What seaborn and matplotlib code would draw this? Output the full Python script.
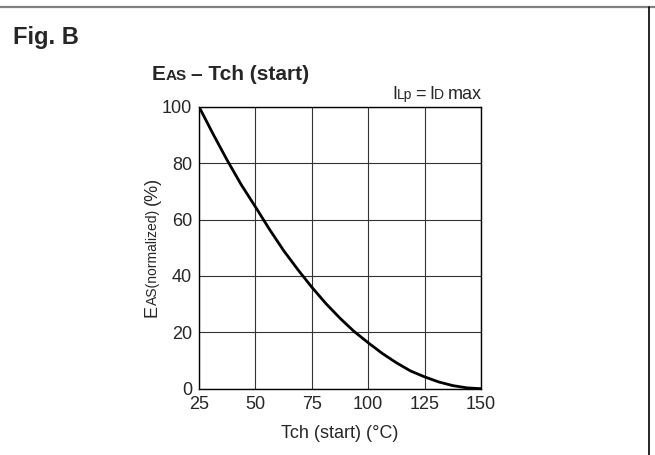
import numpy as np
import pandas as pd
import seaborn as sns
import matplotlib.pyplot as plt
from matplotlib.lines import Line2D
from matplotlib.transforms import IdentityTransform

# данные
tch = [25, 31.25, 37.5, 43.75, 50, 56.25, 62.5, 68.75, 75, 81.25, 87.5,
       93.75, 100, 106.25, 112.5, 118.75, 125, 131.25, 137.5, 143.75, 150]
eas = [100, 90.3, 81, 72.3, 64.5, 56.5, 49, 42.3, 36, 30.2, 25,
       20.3, 16.3, 12.5, 9.2, 6.3, 4.2, 2.4, 1.1, 0.3, 0]
x_ticks = [25, 50, 75, 100, 125, 150]
y_ticks = [0, 20, 40, 60, 80, 100]

sns.set_style("white")
plt.rcParams['font.family'] = ['Liberation Sans', 'DejaVu Sans']

W, H = 655, 455
fig = plt.figure(figsize=(W / 100, H / 100), dpi=100)
ax = fig.add_axes([199 / W, 66.3 / H, 282 / W, 282 / H])

df = pd.DataFrame({"Tch": tch, "EAS": eas})
sns.lineplot(data=df, x="Tch", y="EAS", ax=ax, color="black", linewidth=2.0)

ax.set_xlim(25, 150)
ax.set_ylim(0, 100)
ax.set_xticks(x_ticks)
ax.set_yticks(y_ticks)
ax.tick_params(length=0, labelsize=13, pad=5)
ax.grid(True, color="#333333", linewidth=0.8)
for s in ax.spines.values():
    s.set_color("black")
    s.set_linewidth(1.0)
ax.set_xlabel("")
ax.set_ylabel("")

renderer = fig.canvas.get_renderer()


def draw_runs(x, y, parts, weight="normal", rotate=False, align="left"):
    # рисуем текст кусками разного размера (имитация индексов)
    objs = []
    total = 0
    for s, size, gap in parts:
        t = fig.text(0, 0, s, fontsize=size, weight=weight, transform=IdentityTransform(),
                     ha="left", va="baseline", rotation=90 if rotate else 0,
                     rotation_mode="anchor")
        bb = t.get_window_extent(renderer)
        ln = bb.height if rotate else bb.width
        objs.append((t, ln, gap))
        total += ln + gap
    pos = 0
    if align == "right":
        pos = -total
    elif align == "center":
        pos = -total / 2
    for t, ln, gap in objs:
        if rotate:
            t.set_position((x, y + pos))
        else:
            t.set_position((x + pos, y))
        pos += ln + gap


# подпись рисунка и заголовок
fig.text(13, H - 44, "Fig. B", fontsize=17, weight="bold", transform=IdentityTransform(),
         ha="left", va="baseline")
draw_runs(152, H - 79.5, [("E", 15, 0), ("AS", 11, 4), ("– Tch (start)", 15, 0)], weight="bold")

# условие
draw_runs(482, H - 99, [("I", 13, 0), ("Lp", 10, 3), ("=", 13, 3), ("I", 13, 0),
                        ("D", 10, 4), ("max", 13, 0)], align="right")

# подписи осей
draw_runs(157, 138, [("E", 13, 0), ("AS(normalized)", 10, 4), ("(%)", 13, 0)], rotate=True)
fig.text(340, H - 438, "Tch (start) (°C)", fontsize=13, transform=IdentityTransform(),
         ha="center", va="baseline")

# рамка
fig.add_artist(Line2D([0, W], [H - 7, H - 7], transform=IdentityTransform(),
                      color="#808080", linewidth=1.6))
fig.add_artist(Line2D([649, 649], [0, H - 7], transform=IdentityTransform(),
                      color="black", linewidth=1.2))

fig.savefig("out.png", dpi=100)
